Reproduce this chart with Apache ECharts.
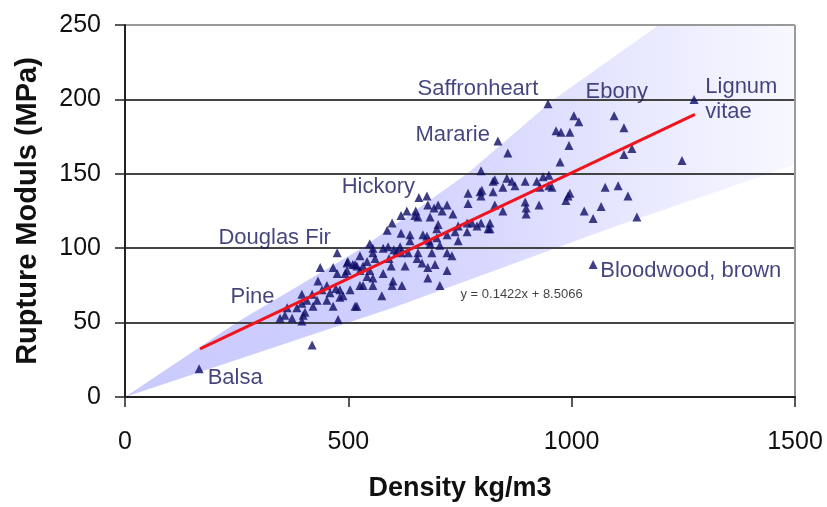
<!DOCTYPE html>
<html><head><meta charset="utf-8">
<script src="https://cdn.jsdelivr.net/npm/echarts@6/dist/echarts.min.js"></script>
<style>html,body{margin:0;padding:0;background:#fff}#c{width:827px;height:507px}</style>
</head><body><div id="c"></div>
<script>
// Wood species: density (kg/m3) vs rupture modulus (MPa)
const woodPoints = [
[166,19],[419,35],[363,60],[385,60],[358,55],[374,53],[347,53],[399,55],[396,51],[403,57],[396,63],[421,61],[466,61],[396,69],[419,69],[407,65],[430,65],[452,65],[481,67],[519,61],[432,78],[452,75],[441,72],[459,70],[481,72],[504,72],[526,75],[555,75],[475,83],[497,85],[526,85],[542,81],[555,80],[437,87],[475,97],[499,91],[515,89],[526,95],[542,91],[560,93],[548,103],[555,97],[589,101],[602,99],[618,97],[634,97],[656,97],[687,97],[654,93],[665,90],[627,88],[596,88],[591,93],[519,88],[533,88],[548,85],[578,83],[721,97],[732,95],[694,89],[721,85],[678,87],[1048,89],[705,75],[678,80],[600,78],[598,75],[620,75],[575,68],[533,75],[515,61],[488,68],[477,52],[587,112],[618,110],[638,109],[638,105],[667,109],[676,108],[698,113],[721,109],[739,111],[746,115],[766,117],[766,111],[777,117],[797,117],[817,117],[817,113],[746,105],[681,105],[705,102],[598,117],[618,122],[651,125],[656,121],[683,121],[701,116],[658,134],[676,135],[701,129],[721,129],[692,127],[734,123],[768,137],[795,138],[797,135],[768,130],[828,129],[846,125],[896,131],[898,127],[898,123],[927,129],[1028,125],[1048,120],[797,152],[828,146],[855,147],[846,141],[873,142],[896,145],[922,145],[949,149],[949,142],[929,141],[992,135],[996,137],[824,145],[866,145],[936,148],[956,141],[799,139],[824,138],[835,172],[857,164],[974,158],[947,197],[1005,189],[1016,185],[965,179],[976,178],[996,178],[994,169],[1095,189],[1117,181],[1135,167],[1117,163],[1247,159],[1274,200],[987,132],[1075,141],[1104,142],[1126,135],[1066,128],[1146,121],[555,100],[578,100],[609,98],[616,101],[683,103],[698,107],[788,115],[813,113],[710,125],[631,125],[649,122],[678,129],[497,90],[472,73],[466,87],[510,89],[493,83]
];
// Trend line end points (y = 0.1422x + 8.5066)
const trendLine = [[168,32.4],[1276,190]];
const trendText = 'y = 0.1422x + 8.5066';
const trendTextPos = [750,69];
// Shaded fan (envelope) edges
const fanUpper = [[0,0],[250,50],[530,100],[766,150],[960,200],[1195,250],[1500,250]];
const fanLower = [[0,0],[600,60],[1100,115],[1500,156]];
// Species labels and anchor positions
const speciesNames = ['Saffronheart','Ebony','Lignum\nvitae','Mararie','Hickory','Douglas Fir','Pine','Balsa','Bloodwood, brown'];
const speciesPos = [[654,207],[1030,205],[1298,200],[649,176],[484,141],[208,107],[235,67],[184,13],[1063,85]];
// Axes
const xMin=0, xMax=1500, xStep=500;
const yMin=0, yMax=250, yStep=50;
const xTitle='Density kg/m3', yTitle='Rupture Moduls (MPa)';

const FONT = "'Liberation Sans', Arial, sans-serif";
const chart = echarts.init(document.getElementById('c'));
const fanFill = new echarts.graphic.LinearGradient(0,0,1,0,[
  {offset:0,color:'#cacafc'},{offset:0.35,color:'#ceceff'},{offset:0.6,color:'#dcdcff'},
  {offset:0.8,color:'#ebebff'},{offset:1,color:'#f8f8ff'}]);

chart.setOption({
  animation:false,
  backgroundColor:'#fff',
  grid:{left:125,right:32,top:25,bottom:107},
  xAxis:{type:'value',min:xMin,max:xMax,interval:xStep,
    name:xTitle,nameLocation:'middle',nameGap:78,
    nameTextStyle:{fontFamily:FONT,fontWeight:'bold',fontSize:27,color:'#111'},
    axisLine:{lineStyle:{color:'#222',width:2}},
    axisTick:{show:true,inside:false,length:10,lineStyle:{color:'#222',width:1.5}},
    axisLabel:{fontFamily:FONT,fontSize:25,color:'#111',margin:33,formatter:v=>String(v)},
    splitLine:{show:true,lineStyle:{color:['rgba(0,0,0,0)','rgba(0,0,0,0)','rgba(0,0,0,0)','#999'],width:2}}
  },
  yAxis:{type:'value',min:yMin,max:yMax,interval:yStep,
    name:yTitle,nameLocation:'middle',nameGap:83,
    nameTextStyle:{fontFamily:FONT,fontWeight:'bold',fontSize:29,color:'#111'},
    axisLine:{show:true,lineStyle:{color:'#222',width:2}},
    axisTick:{show:true,inside:false,length:10,lineStyle:{color:'#222',width:1.5}},
    axisLabel:{fontFamily:FONT,fontSize:25,color:'#111',margin:24,formatter:v=>String(v)},
    splitLine:{show:true,lineStyle:{color:['#444','#444','#444','#444','#444','#999'],width:2}}
  },
  series:[
    {type:'custom',z:-1,silent:true,clip:true,data:[[0,0]],
      renderItem:function(params,api){
        const pts = fanUpper.map(p=>api.coord(p)).concat(fanLower.slice(1).reverse().map(p=>api.coord(p)));
        return {type:'polygon',shape:{points:pts},style:{fill:fanFill}};
      }},
    {type:'scatter',data:woodPoints,symbol:'triangle',symbolSize:9,
      itemStyle:{color:'#0e0e66'},z:3},
    {type:'line',data:trendLine,symbol:'none',lineStyle:{color:'#f0141e',width:3},z:4},
    {type:'scatter',silent:true,symbolSize:1,itemStyle:{color:'rgba(0,0,0,0)'},z:5,
      data:speciesPos.map((p,i)=>({value:p,name:speciesNames[i]})),
      label:{show:true,position:'right',distance:0,formatter:'{b}',
        fontFamily:FONT,fontSize:22,color:'#16165e',lineHeight:25,align:'left',verticalAlign:'middle'}},
    {type:'scatter',silent:true,symbolSize:1,itemStyle:{color:'rgba(0,0,0,0)'},z:5,
      data:[{value:trendTextPos,name:trendText}],
      label:{show:true,position:'right',distance:0,formatter:'{b}',
        fontFamily:FONT,fontSize:13,color:'#111',align:'left',verticalAlign:'middle'}}
  ]
});
</script></body></html>
